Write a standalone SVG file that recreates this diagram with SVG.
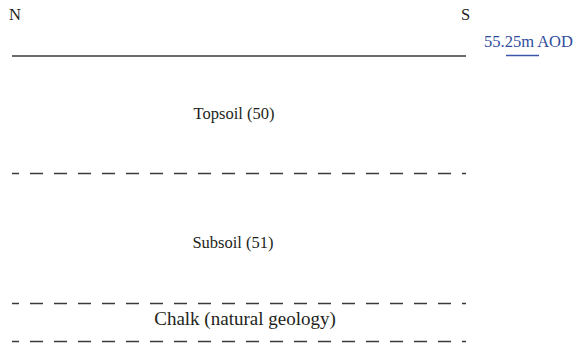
<svg xmlns="http://www.w3.org/2000/svg" width="579" height="347" viewBox="0 0 579 347">
<style>
text{font-family:"Liberation Serif","Times New Roman",serif;font-size:16.5px;fill:#231f20}
.blue{fill:#2f4c9c}
.dash{stroke:#3a3a3a;stroke-width:1.3;stroke-dasharray:13 11;stroke-dashoffset:6;fill:none}
.solid{stroke:#3a3a3a;stroke-width:1.3;fill:none}
</style>
<rect width="579" height="347" fill="#ffffff"/>
<g id="labels">
<text id="north" x="9" y="20">N</text>
<text id="south" x="461" y="20">S</text>
</g>
<g id="level">
<text class="blue" x="484" y="47">55.25m AOD</text>
<line x1="506" y1="55.5" x2="539" y2="55.5" stroke="#3b55a8" stroke-width="1.6"/>
</g>
<g id="connectors">
<line class="solid" x1="12" y1="56" x2="466" y2="56"/>
<line class="dash" x1="12" y1="173.5" x2="466" y2="173.5"/>
<line class="dash" x1="12" y1="303.5" x2="466" y2="303.5"/>
<line class="dash" x1="12" y1="341.5" x2="466" y2="341.5"/>
</g>
<g id="topsoil"><text x="234" y="119" text-anchor="middle">Topsoil (50)</text></g>
<g id="subsoil"><text x="233" y="248" text-anchor="middle">Subsoil (51)</text></g>
<g id="chalk"><text x="245" y="325" text-anchor="middle" style="font-size:19px">Chalk (natural geology)</text></g>
</svg>
